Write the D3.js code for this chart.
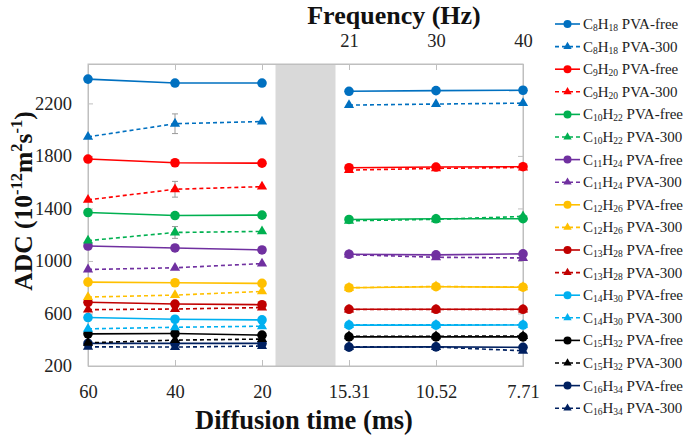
<!DOCTYPE html>
<html><head><meta charset="utf-8">
<script src="https://cdn.jsdelivr.net/npm/d3@7"></script>
<style>body{margin:0;background:#fff}svg{display:block}text{font-family:"Liberation Serif","Times New Roman",serif}</style>
</head><body><svg id="c" width="685" height="437"></svg>
<script>
const categories = ["60","40","20","15.31","10.52","7.71"];
const freqLabels = ["21","30","40"];
const yTicks = [200,600,1000,1400,1800,2200];
const compounds = [["8","18"],["9","20"],["10","22"],["11","24"],["12","26"],["13","28"],["14","30"],["15","32"],["16","34"]];
const colors = ["#0070C0","#FF0000","#00B050","#7030A0","#FFC000","#C00000","#00B0F0","#000000","#002060"];
const freeValues = [
  [2385,2355,2355,2292,2297,2300],
  [1776,1748,1745,1710,1715,1718],
  [1369,1346,1349,1316,1321,1322],
  [1114,1099,1084,1051,1046,1054],
  [839,834,829,796,804,800],
  [685,672,667,632,632,632],
  [569,556,551,511,511,512],
  [445,447,435,422,422,422],
  [372,372,372,344,346,342]
];
const pvaValues = [
  [1945,2045,2062,2187,2195,2202],
  [1465,1546,1566,1692,1705,1712],
  [1155,1217,1225,1306,1317,1339],
  [935,948,980,1048,1028,1023],
  [725,740,768,796,806,800],
  [629,634,645,630,630,630],
  [483,495,503,513,513,514],
  [377,397,405,427,427,428],
  [346,344,352,346,344,316]
];
const pvaErrors = [
  [0,75,0,0,0,0],
  [0,60,0,0,0,0],
  [0,45,0,0,0,0],
  [0,0,0,0,0,0],
  [0,0,0,0,0,0],
  [0,0,0,0,0,0],
  [0,0,0,0,0,0],
  [0,0,0,0,0,0],
  [0,0,0,0,0,0]
];

const svg = d3.select("#c");
const L=88, R=523, T=64, B=366;
const x = d3.scalePoint().domain(categories).range([L,R]);
const y = d3.scaleLinear().domain([200,2500]).range([B,T]);
const axisCol = "#BFBFBF";

// gray gap
const gx0 = (x("20")+x("15.31"))/2 - 30;
svg.append("rect").attr("x",gx0).attr("y",T+1).attr("width",60).attr("height",B-T-1).attr("fill","#D9D9D9");

// frame
svg.append("rect").attr("x",L).attr("y",T).attr("width",R-L).attr("height",B-T).attr("fill","none").attr("stroke",axisCol).attr("stroke-width",1);

// axes
const axB = svg.append("g").attr("transform",`translate(0,${B})`).call(d3.axisBottom(x).tickSize(-6).tickPadding(19));
const axT = svg.append("g").attr("transform",`translate(0,${T})`).call(d3.axisTop(x).tickSize(-6).tickPadding(17).tickFormat((d,i)=> i>=3 ? freqLabels[i-3] : ""));
const axL = svg.append("g").attr("transform",`translate(${L},0)`).call(d3.axisLeft(y).tickValues(yTicks).tickFormat(d3.format("d")).tickSize(-5).tickPadding(16));
const axR = svg.append("g").attr("transform",`translate(${R},0)`).call(d3.axisRight(y).tickValues(yTicks).tickSize(-5).tickFormat(""));
[axB,axT,axL,axR].forEach(a=>{
  a.attr("font-family",null);
  a.select(".domain").attr("stroke",axisCol);
  a.selectAll(".tick line").attr("stroke",axisCol);
  a.selectAll(".tick text").attr("font-size",18.5).attr("fill","#222");
});

// series
const lineGen = d3.line().x(d=>x(d.c)).y(d=>y(d.v));
function drawSeries(vals, col, dashed, tri, errs){
  const pts = vals.map((v,i)=>({c:categories[i], v, e: errs ? errs[i] : 0}));
  [pts.slice(0,3), pts.slice(3,6)].forEach(seg=>{
    svg.append("path").attr("d",lineGen(seg)).attr("fill","none").attr("stroke",col)
      .attr("stroke-width",1.6).attr("stroke-dasharray",dashed?"4,3":null);
  });
  pts.filter(p=>p.e>0).forEach(p=>{
    const xx=x(p.c);
    svg.append("path").attr("d",`M${xx},${y(p.v-p.e)}V${y(p.v+p.e)}M${xx-3},${y(p.v-p.e)}H${xx+3}M${xx-3},${y(p.v+p.e)}H${xx+3}`)
      .attr("stroke","#999").attr("stroke-width",1).attr("fill","none");
  });
  pts.forEach(p=>{
    if(tri){
      svg.append("path").attr("d",d3.symbol(d3.symbolTriangle,45)()).attr("transform",`translate(${x(p.c)},${y(p.v)})`).attr("fill",col);
    } else {
      svg.append("circle").attr("cx",x(p.c)).attr("cy",y(p.v)).attr("r",4.8).attr("fill",col);
    }
  });
}
for(let i=compounds.length-1;i>=0;i--){
  drawSeries(pvaValues[i], colors[i], true, true, pvaErrors[i]);
  drawSeries(freeValues[i], colors[i], false, false, null);
}

// legend
const lg = svg.append("g");
compounds.forEach((cmp,i)=>{
  ["PVA-free","PVA-300"].forEach((lab,j)=>{
    const k=i*2+j, yy=24+k*22.6;
    lg.append("line").attr("x1",555).attr("x2",580).attr("y1",yy).attr("y2",yy).attr("stroke",colors[i])
      .attr("stroke-width",1.6).attr("stroke-dasharray",j?"4,3":null);
    if(j) lg.append("path").attr("d",d3.symbol(d3.symbolTriangle,30)()).attr("transform",`translate(567.5,${yy})`).attr("fill",colors[i]);
    else lg.append("circle").attr("cx",567.5).attr("cy",yy).attr("r",4).attr("fill",colors[i]);
    const t = lg.append("text").attr("x",583).attr("y",yy+5).attr("font-size",15).attr("fill","#222");
    t.append("tspan").text("C");
    t.append("tspan").attr("font-size",9.5).attr("dy",2).text(cmp[0]);
    t.append("tspan").attr("dy",-2).text("H");
    t.append("tspan").attr("font-size",9.5).attr("dy",2).text(cmp[1]);
    t.append("tspan").attr("dy",-2).text(" "+lab);
  });
});

// titles
svg.append("text").attr("x",304).attr("y",429).attr("text-anchor","middle").attr("font-weight","bold").attr("font-size",26.5).attr("fill","#111").text("Diffusion time (ms)");
svg.append("text").attr("x",394).attr("y",24).attr("text-anchor","middle").attr("font-weight","bold").attr("font-size",26).attr("fill","#111").text("Frequency (Hz)");
const yt = svg.append("text").attr("transform","translate(32,201) rotate(-90)").attr("text-anchor","middle").attr("font-weight","bold").attr("font-size",25.5).attr("fill","#111");
yt.append("tspan").text("ADC (10");
yt.append("tspan").attr("font-size",16.5).attr("dy",-10.5).text("-12");
yt.append("tspan").attr("dy",10.5).text("m");
yt.append("tspan").attr("font-size",16.5).attr("dy",-10.5).text("2");
yt.append("tspan").attr("dy",10.5).text("s");
yt.append("tspan").attr("font-size",16.5).attr("dy",-10.5).text("-1");
yt.append("tspan").attr("dy",10.5).text(")");
</script></body></html>
